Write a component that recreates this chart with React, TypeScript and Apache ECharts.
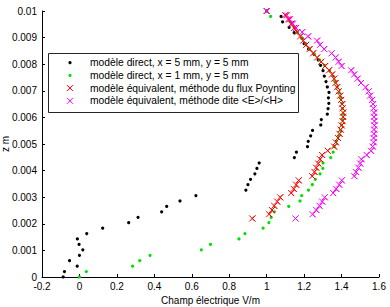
import React, { useEffect, useRef } from 'react';
import * as echarts from 'echarts';

// z positions (m) of the direct-model samples
const zDirect = [
  0, 0.000204, 0.000408, 0.000612, 0.000816, 0.00102, 0.001224, 0.001429, 0.001633, 0.001837,
  0.002041, 0.002245, 0.002449, 0.002653, 0.002857, 0.003061, 0.003265, 0.003469, 0.003673, 0.003878,
  0.004082, 0.004286, 0.00449, 0.004694, 0.004898, 0.005102, 0.005306, 0.00551, 0.005714, 0.005918,
  0.006122, 0.006327, 0.006531, 0.006735, 0.006939, 0.007143, 0.007347, 0.007551, 0.007755, 0.007959,
  0.008163, 0.008367, 0.008571, 0.008776, 0.00898, 0.009184, 0.009388, 0.009592, 0.009796, 0.01,
];
// Champ électrique, modèle direct x = 5 mm
const eDirect5 = [
  -0.087, -0.08, -0.012, -0.053, 0, 0.018, -0.002, -0.011, 0.039, 0.124,
  0.263, 0.313, 0.439, 0.466, 0.537, 0.622, 0.889, 0.9, 0.914, 0.937,
  0.948, 0.96, 1.148, 1.159, 1.218, 1.222, 1.235, 1.245, 1.289, 1.292,
  1.324, 1.328, 1.332, 1.33, 1.333, 1.324, 1.317, 1.308, 1.301, 1.288,
  1.275, 1.253, 1.224, 1.2, 1.189, 1.147, 1.12, 1.085, 1.077, 1.0,
];
// Champ électrique, modèle direct x = 1 mm
const eDirect1 = [
  0, 0.037, 0.284, 0.322, 0.377, 0.651, 0.7, 0.852, 0.884, 0.981,
  1.012, 1.024, 1.041, 1.118, 1.178, 1.187, 1.223, 1.244, 1.26, 1.285,
  1.3, 1.301, 1.342, 1.355, 1.36, 1.372, 1.384, 1.394, 1.4, 1.406,
  1.408, 1.405, 1.402, 1.395, 1.387, 1.376, 1.365, 1.355, 1.336, 1.309,
  1.283, 1.256, 1.229, 1.208, 1.187, 1.165, 1.147, 1.125, 1.021, 1.0,
];
// z positions (m) of the equivalent-model samples
const zEquiv = [
  0.0022, 0.002359, 0.002518, 0.002678, 0.002837, 0.002996, 0.003155, 0.003314, 0.003473, 0.003633,
  0.003792, 0.003951, 0.00411, 0.004269, 0.004429, 0.004588, 0.004747, 0.004906, 0.005065, 0.005224,
  0.005384, 0.005543, 0.005702, 0.005861, 0.00602, 0.00618, 0.006339, 0.006498, 0.006657, 0.006816,
  0.006976, 0.007135, 0.007294, 0.007453, 0.007612, 0.007771, 0.007931, 0.00809, 0.008249, 0.008408,
  0.008567, 0.008727, 0.008886, 0.009045, 0.009204, 0.009363, 0.009522, 0.009682, 0.009841, 0.01,
];
// méthode du flux Poynting
const ePoynting = [
  0.923, 1.013, 1.028, 1.04, 1.056, 1.072, 1.131, 1.144, 1.157, 1.171,
  1.243, 1.255, 1.264, 1.275, 1.285, 1.296, 1.326, 1.36, 1.369, 1.381,
  1.389, 1.395, 1.4, 1.405, 1.408, 1.408, 1.405, 1.403, 1.397, 1.392,
  1.384, 1.376, 1.368, 1.36, 1.349, 1.333, 1.312, 1.291, 1.269, 1.248,
  1.229, 1.211, 1.195, 1.179, 1.163, 1.147, 1.131, 1.115, 1.099, 1.0,
];
// méthode dite <E>/<H>
const eEH = [
  1.154, 1.245, 1.265, 1.282, 1.296, 1.31, 1.355, 1.371, 1.387, 1.401,
  1.468, 1.477, 1.49, 1.499, 1.506, 1.534, 1.557, 1.566, 1.571, 1.571,
  1.573, 1.573, 1.575, 1.575, 1.573, 1.573, 1.571, 1.568, 1.563, 1.552,
  1.544, 1.528, 1.504, 1.485, 1.467, 1.451, 1.4, 1.384, 1.368, 1.347,
  1.307, 1.285, 1.269, 1.221, 1.189, 1.157, 1.139, 1.123, 1.107, 1.0,
];

const seriesNames = [
  'modèle direct, x = 5 mm, y = 5 mm',
  'modèle direct, x = 1 mm, y = 5 mm',
  'modèle équivalent, méthode du flux Poynting',
  'modèle équivalent, méthode dite <E>/<H>',
];
const seriesColors = ['#000000', '#00e000', '#ff0000', '#ff00ff'];
const seriesIsCross = [false, false, true, true];

const FONT = "'Liberation Sans', Arial, Helvetica, sans-serif";

export default function App() {
  const ref = useRef<HTMLDivElement>(null);
  useEffect(() => {
    const chart = echarts.init(ref.current!, null, { renderer: 'svg' });
    const pair = (xs: number[], zs: number[]) => xs.map((x, i) => [x, zs[i]]);
    const dotSeries = (k: number, data: number[][]) => ({
      type: 'scatter',
      name: seriesNames[k],
      data,
      silent: true,
      emphasis: { disabled: true },
      symbol: 'circle',
      symbolSize: 3.2,
      itemStyle: { color: seriesColors[k], borderWidth: 0, opacity: 1 },
      z: 2 + k,
    });
    const crossSeries = (k: number, data: number[][]) => ({
      type: 'custom',
      name: seriesNames[k],
      data,
      silent: true,
      clip: false,
      encode: { x: 0, y: 1 },
      itemStyle: { color: seriesColors[k] },
      z: 2 + k,
      renderItem: (_params: any, api: any) => {
        const p = api.coord([api.value(0), api.value(1)]);
        const h = 3;
        return {
          type: 'polyline',
          shape: {
            points: [
              [p[0] - h, p[1] - h],
              [p[0] + h, p[1] + h],
              [p[0], p[1]],
              [p[0] + h, p[1] - h],
              [p[0] - h, p[1] + h],
            ],
          },
          style: { stroke: seriesColors[k], lineWidth: 1, fill: 'none', opacity: 1 },
        };
      },
    });
    const axisCommon = {
      axisLine: { show: true, onZero: false, lineStyle: { color: '#000', width: 1 } },
      axisTick: { show: true, inside: true, length: 3, lineStyle: { color: '#000' } },
      splitLine: { show: false },
      axisLabel: { color: '#000', fontSize: 10, fontFamily: FONT },
      nameTextStyle: { color: '#000', fontSize: 10, fontFamily: FONT },
    };

    // legend box drawn as graphic elements
    const legendLeft = 48.5;
    const legendTop = 53.5;
    const rowH = 12.7;
    const legendEls: any[] = [
      {
        type: 'rect',
        shape: { x: legendLeft, y: legendTop, width: 250, height: 59 },
        style: { fill: '#fff', stroke: '#262626', lineWidth: 1 },
      },
    ];
    seriesNames.forEach((name, k) => {
      const cy = 62.7 + rowH * k;
      const cx = 70;
      if (seriesIsCross[k]) {
        legendEls.push({
          type: 'line',
          shape: { x1: cx - 3, y1: cy - 3, x2: cx + 3, y2: cy + 3 },
          style: { stroke: seriesColors[k], lineWidth: 1 },
        });
        legendEls.push({
          type: 'line',
          shape: { x1: cx + 3, y1: cy - 3, x2: cx - 3, y2: cy + 3 },
          style: { stroke: seriesColors[k], lineWidth: 1 },
        });
      } else {
        legendEls.push({
          type: 'circle',
          shape: { cx, cy, r: 1.6 },
          style: { fill: seriesColors[k] },
        });
      }
      legendEls.push({
        type: 'text',
        x: 90,
        y: cy,
        style: {
          text: name,
          fill: '#000',
          fontSize: 10.3,
          fontFamily: FONT,
          verticalAlign: 'middle',
          align: 'left',
        },
      });
    });
    // y-axis title
    legendEls.push({
      type: 'text',
      x: 5,
      y: 144,
      rotation: Math.PI / 2,
      style: {
        text: 'z m',
        fill: '#000',
        fontSize: 10,
        fontFamily: FONT,
        align: 'center',
        verticalAlign: 'middle',
      },
    });

    chart.setOption({
      animation: false,
      backgroundColor: '#fff',
      color: seriesColors,
      tooltip: { show: false },
      grid: { left: 42, right: 11, top: 11, bottom: 30, containLabel: false, outerBoundsMode: 'none' },
      xAxis: {
        type: 'value',
        min: -0.2,
        max: 1.6,
        interval: 0.2,
        name: 'Champ électrique V/m',
        nameLocation: 'middle',
        nameGap: 16,
        ...axisCommon,
        axisLabel: { ...axisCommon.axisLabel, margin: 4 },
      },
      yAxis: {
        type: 'value',
        min: 0,
        max: 0.01,
        interval: 0.001,
        ...axisCommon,
        axisLabel: { ...axisCommon.axisLabel, margin: 5 },
      },
      graphic: { elements: [{ type: 'group', z: 100, children: legendEls }] },
      series: [
        dotSeries(0, pair(eDirect5, zDirect)),
        dotSeries(1, pair(eDirect1, zDirect)),
        crossSeries(2, pair(ePoynting, zEquiv)),
        crossSeries(3, pair(eEH, zEquiv)),
      ],
    });
    return () => chart.dispose();
  }, []);
  return (
    <div
      ref={ref}
      style={{ position: 'absolute', left: 0, top: 0, width: 390, height: 307, background: '#fff' }}
    />
  );
}
